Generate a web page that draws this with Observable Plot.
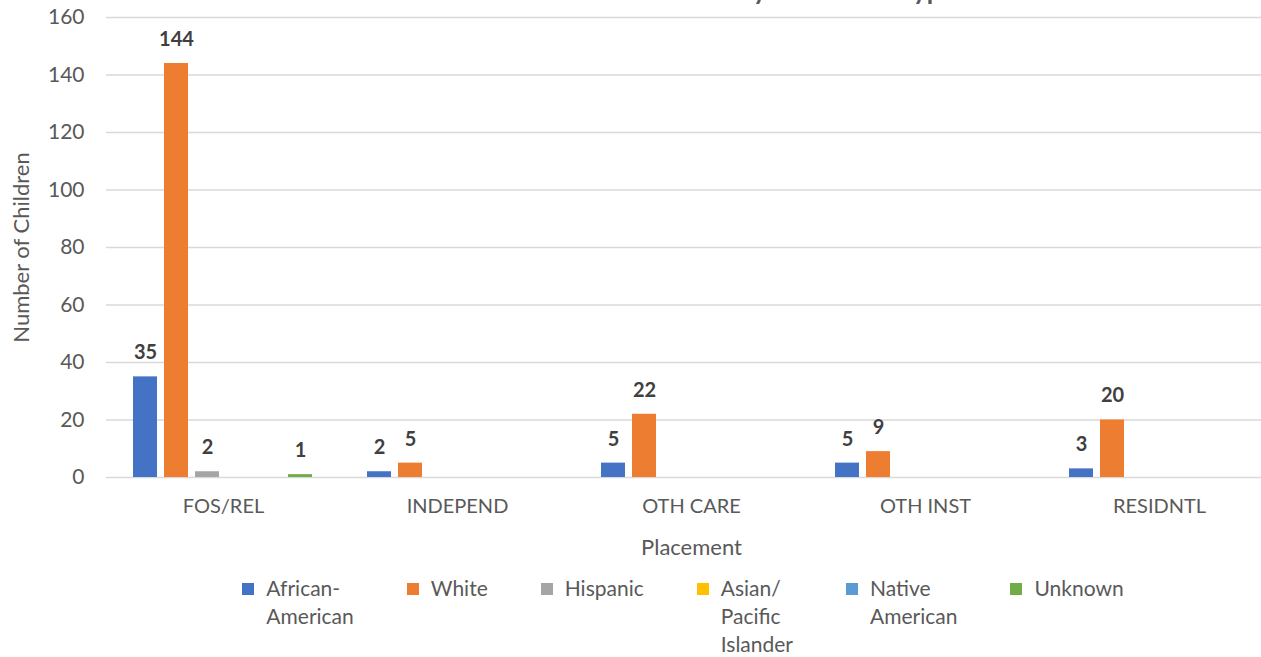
<!DOCTYPE html>
<html>
<head>
<meta charset="utf-8">
<script src="https://cdn.jsdelivr.net/npm/d3@7"></script>
<script src="https://cdn.jsdelivr.net/npm/@observablehq/plot@0.6"></script>
<style>
  html, body { margin: 0; padding: 0; background: #fff; overflow: hidden; }
  body { width: 1261px; height: 657px; position: relative; font-family: Lato, "Open Sans", sans-serif; }
  #title { position: absolute; top: -25px; left: 0; width: 1276px; padding-right: 30px; box-sizing: border-box;
           text-align: center; font-weight: bold; font-size: 26px; color: #595959; line-height: 30px; }
  #grid, #chart { position: absolute; top: 0; left: 0; width: 1276px; }
  #grid svg, #chart svg { max-width: none !important; width: 1276px !important; height: 565px !important; }
  #legend { position: absolute; top: 579px; left: 0; width: 1276px; padding-left: 90px; box-sizing: border-box;
            display: flex; justify-content: center; gap: 53px; font-size: 21px; color: #595959; }
  .item { display: flex; align-items: flex-start; }
  .sw { width: 12px; height: 12px; margin-top: 4px; margin-right: 12px; flex: none; }
  .lab div { line-height: 18px; height: 18px; margin-bottom: 10px; white-space: nowrap; }
  .lab div:last-child { margin-bottom: 0; }
</style>
</head>
<body>
<div id="title">Race of Children in Out-of-Home Care by Placement Type</div>
<div id="grid"></div>
<div id="chart"></div>
<div id="legend"></div>
<script>
const placements = ["FOS/REL", "INDEPEND", "OTH CARE", "OTH INST", "RESIDNTL"];
const races = ["African-American", "White", "Hispanic", "Asian/Pacific Islander", "Native American", "Unknown"];
const legendLabels = ["African-\nAmerican", "White", "Hispanic", "Asian/\nPacific\nIslander", "Native\nAmerican", "Unknown"];
const africanAmerican = [35, 2, 5, 5, 3];
const white = [144, 5, 22, 9, 20];
const hispanic = [2, 0, 0, 0, 0];
const asianPacific = [0, 0, 0, 0, 0];
const nativeAmerican = [0, 0, 0, 0, 0];
const unknown = [1, 0, 0, 0, 0];
const yTicks = [0, 20, 40, 60, 80, 100, 120, 140, 160];
const colors = ["#4472C4", "#ED7D31", "#A5A5A5", "#FFC000", "#5B9BD5", "#70AD47"];

const series = [africanAmerican, white, hispanic, asianPacific, nativeAmerican, unknown];
const data = [];
placements.forEach((p, i) => {
  races.forEach((r, j) => data.push({placement: p, race: r, value: series[j][i]}));
});

const dims = {width: 1276, height: 565, marginLeft: 106, marginRight: 0, marginTop: 17, marginBottom: 88};

// gridlines layer (spans whole plot area)
const grid = Plot.plot({
  ...dims,
  style: {background: "transparent"},
  x: {axis: null},
  y: {domain: [0, 160], axis: null},
  marks: [Plot.ruleY(yTicks, {stroke: "#d9d9d9", strokeWidth: 1.3})]
});
document.getElementById("grid").appendChild(grid);

const chart = Plot.plot({
  ...dims,
  style: {fontFamily: "Lato, 'Open Sans', sans-serif", color: "#595959", background: "transparent"},
  fx: {domain: placements, paddingInner: 0.204, paddingOuter: 0.102, label: "Placement"},
  x: {domain: races, paddingInner: 0.22, paddingOuter: 0.11, axis: null},
  y: {domain: [0, 160], label: "Number of Children"},
  color: {domain: races, range: colors},
  marks: [
    Plot.barY(data, {fx: "placement", x: "race", y: "value", fill: "race"}),
    Plot.text(data.filter(d => d.value > 0), {fx: "placement", x: "race", y: "value", text: d => String(d.value),
      dy: -24, fontWeight: "bold", fontSize: 20, fill: "#404040"}),
    Plot.axisY(yTicks, {tickSize: 0, tickPadding: 46, fontSize: 21, label: "Number of Children",
      labelAnchor: "center", labelArrow: "none", labelOffset: 117}),
    Plot.axisFx({anchor: "bottom", tickSize: 0, tickPadding: 21, fontSize: 20, label: "Placement",
      labelAnchor: "center", labelArrow: "none", labelOffset: 77})
  ]
});
document.getElementById("chart").appendChild(chart);
d3.select(chart).selectAll("g[aria-label='y-axis label'], g[aria-label='fx-axis label']")
  .attr("font-size", 22).selectAll("text").attr("font-size", 22);

const legend = d3.select("#legend");
races.forEach((r, i) => {
  const it = legend.append("div").attr("class", "item");
  it.append("div").attr("class", "sw").style("background", colors[i]);
  const lab = it.append("div").attr("class", "lab");
  legendLabels[i].split("\n").forEach(line => lab.append("div").text(line));
});
</script>
</body>
</html>
